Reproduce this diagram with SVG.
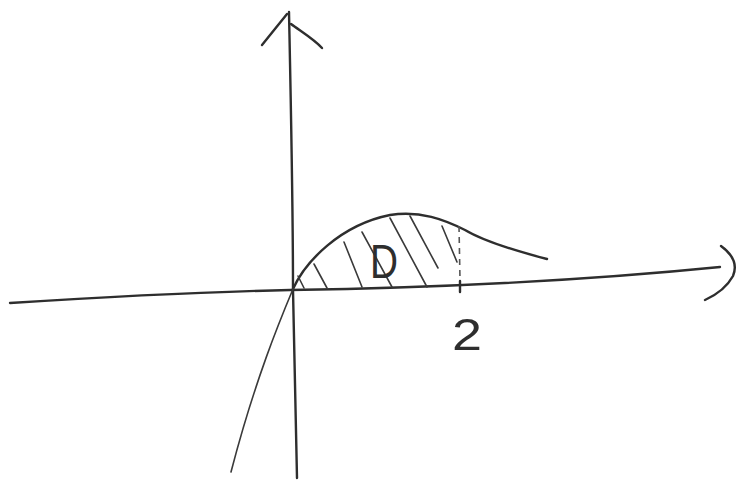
<svg xmlns="http://www.w3.org/2000/svg" width="749" height="490" viewBox="0 0 749 490">
  <style>
    .ink { fill: none; stroke: #2e2e2e; stroke-width: 2.4; stroke-linecap: round; stroke-linejoin: round; }
    .thin { fill: none; stroke: #3a3a3a; stroke-width: 1.6; stroke-linecap: round; }
    .dash { fill: none; stroke: #555; stroke-width: 1.6; stroke-dasharray: 6 5; }
    .label { font-family: "Liberation Sans", Arial, sans-serif; font-weight: 300; fill: #2e2e2e; }
  </style>
  <rect width="749" height="490" fill="#ffffff"/>
  <g id="axes">
    <path class="ink" d="M10,303 C120,296 200,292 290,290 C420,288 560,283 720,267"/>
    <path class="ink" d="M289,12 C291,110 293,200 293,290 C294,360 296,420 297,478"/>
    <path class="ink" d="M287,14 L262,45"/>
    <path class="ink" d="M291,24 C302,32 315,40 322,48"/>
    <path class="ink" d="M721,246 C732,254 738,264 733,276 C727,287 716,295 705,300"/>
  </g>
  <g id="curve">
    <path class="ink" d="M293,289 C305,262 340,225 390,215 C420,210 445,220 465,230 C485,242 520,252 547,259"/>
    <path class="thin" d="M293,289 C280,320 255,380 231,472"/>
  </g>
  <g id="region-D">
    <path class="thin" d="M298,276 L304,288"/>
    <path class="thin" d="M314,264 L327,288"/>
    <path class="thin" d="M344,242 L362,287"/>
    <path class="thin" d="M362,232 L392,287"/>
    <path class="thin" d="M390,218 L427,287"/>
    <path class="thin" d="M410,216 L438,268"/>
    <path class="thin" d="M442,226 L457,262"/>
    <path class="dash" d="M459,226 L460,280"/>
    <path class="ink" d="M460,281 L460,292"/>
    <text class="label" x="370" y="278" font-size="48" textLength="28" lengthAdjust="spacingAndGlyphs">D</text>
  </g>
  <g id="label-2">
    <text class="label" x="452" y="350" font-size="44" textLength="30" lengthAdjust="spacingAndGlyphs">2</text>
  </g>
</svg>
